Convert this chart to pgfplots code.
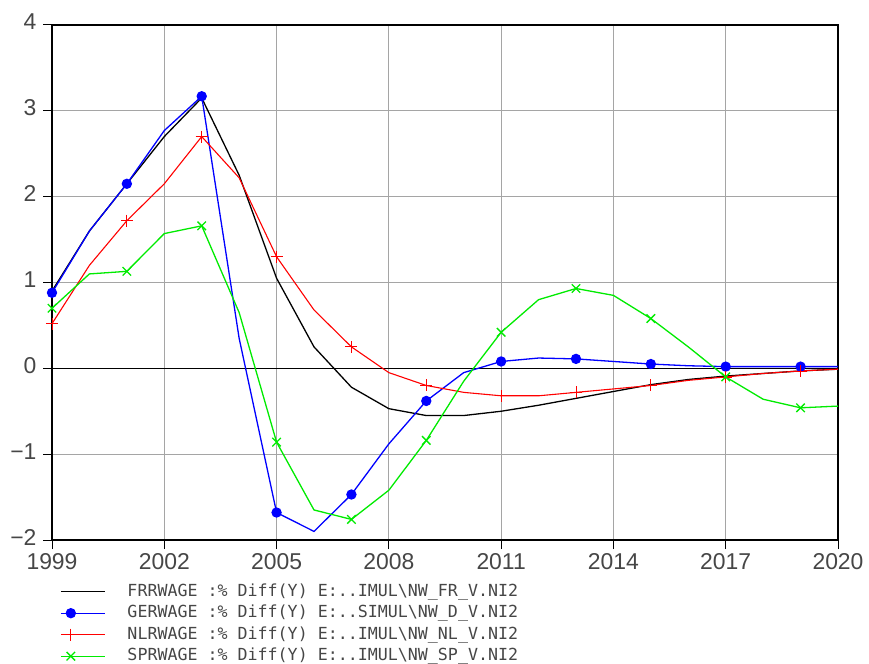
\documentclass[border=0pt]{standalone}
\usepackage{pgfplots}
\pgfplotsset{compat=1.18}
\usepackage{pgfplotstable}
\usepackage{fontspec}
\setmainfont{Liberation Sans}
\newfontfamily\legfont{DejaVu Sans Mono}
\definecolor{tickgray}{RGB}{70,70,70}
\definecolor{gridgray}{RGB}{165,165,165}
\definecolor{sgreen}{RGB}{0,235,0}

% year  FR     GER    NL     SP
\pgfplotstableread{
year fr    ger   nl    sp
1999 0.90  0.88  0.52  0.70
2000 1.60  1.60  1.20  1.10
2001 2.15  2.15  1.72  1.13
2002 2.70  2.77  2.15  1.57
2003 3.15  3.17  2.70  1.66
2004 2.25  0.35  2.22  0.65
2005 1.05 -1.68  1.30 -0.86
2006 0.25 -1.90  0.68 -1.65
2007 -0.22 -1.47 0.25 -1.76
2008 -0.47 -0.88 -0.05 -1.42
2009 -0.55 -0.38 -0.20 -0.84
2010 -0.55 -0.05 -0.28 -0.15
2011 -0.50  0.08 -0.32  0.42
2012 -0.43  0.12 -0.32  0.80
2013 -0.35  0.11 -0.28  0.93
2014 -0.27  0.08 -0.24  0.85
2015 -0.19  0.05 -0.20  0.58
2016 -0.13  0.03 -0.14  0.25
2017 -0.09  0.02 -0.10 -0.10
2018 -0.06  0.02 -0.06 -0.36
2019 -0.03  0.02 -0.03 -0.46
2020 -0.01  0.02 -0.01 -0.44
}\wages

\begin{document}
\begin{tikzpicture}
\path[use as bounding box] (0,0) rectangle (869bp,664bp);
\begin{axis}[
  at={(52bp,124bp)}, anchor=south west,
  scale only axis, width=786bp, height=515bp,
  xmin=1999, xmax=2020, ymin=-2, ymax=4,
  xtick={1999,2002,...,2020},
  ytick={-2,...,4},
  yticklabels={−2,−1,0,1,2,3,4},
  /pgf/number format/assume math mode=true,
  /pgf/number format/1000 sep={},
  tick label style={font=\fontsize{23}{23}\selectfont, text=tickgray},
  yticklabel style={yshift=3bp, xshift=-3bp},
  xticklabel style={yshift=-1bp},
  tick align=outside, major tick length=9bp,
  xtick pos=bottom, ytick pos=left,
  tick style={black, line width=1bp},
  grid=major, major grid style={gridgray, line width=1bp},
  axis line style={black, line width=1.2bp},
  legend cell align=left,
  legend image code/.code={
    \draw[#1, mark repeat=2, mark phase=2] plot coordinates {(0bp,0bp) (10bp,0bp) (44bp,0bp)};},
  legend style={at={(0,0)}, anchor=north west, xshift=5bp, yshift=-42bp,
    draw=none, fill=none, text=tickgray,
    font=\legfont\fontsize{16.7}{19}\selectfont,
    nodes={inner sep=0pt, text height=12bp, text depth=3bp},
    row sep=6.5bp,
    /tikz/every odd column/.append style={column sep=22bp}},
]
\draw[black, line width=1bp] (axis cs:1999,0) -- (axis cs:2020,0);
\addplot[black, line width=1.3bp, mark=none] table[x=year, y=fr] {\wages};
\addlegendentry{FRRWAGE :\% Diff(Y) E:..IMUL\textbackslash NW\_FR\_V.NI2}
\addplot[blue, line width=1.3bp, mark=*, mark repeat=2, mark size=4.5bp,
  mark options={fill=blue, draw=blue}] table[x=year, y=ger] {\wages};
\addlegendentry{GERWAGE :\% Diff(Y) E:..SIMUL\textbackslash NW\_D\_V.NI2}
\addplot[red, line width=1.1bp, mark=+, mark repeat=2, mark size=6bp,
  mark options={line width=0.8bp}] table[x=year, y=nl] {\wages};
\addlegendentry{NLRWAGE :\% Diff(Y) E:..IMUL\textbackslash NW\_NL\_V.NI2}
\addplot[sgreen, line width=1.3bp, mark=x, mark repeat=2, mark size=6bp,
  mark options={line width=1.3bp}] table[x=year, y=sp] {\wages};
\addlegendentry{SPRWAGE :\% Diff(Y) E:..IMUL\textbackslash NW\_SP\_V.NI2}
\end{axis}
\end{tikzpicture}
\end{document}
